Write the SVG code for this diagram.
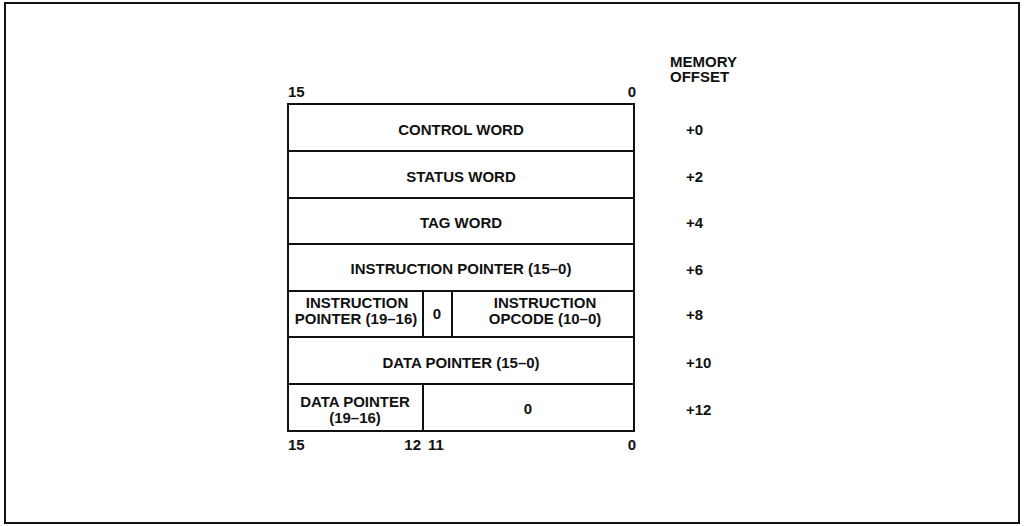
<svg xmlns="http://www.w3.org/2000/svg" width="1024" height="526" viewBox="0 0 1024 526">
<style>
text{font-family:"Liberation Sans",Arial,sans-serif;font-weight:bold;font-size:15px;fill:#111}
.c{text-anchor:middle}
.box{fill:#fff;stroke:#111;stroke-width:2}
.ln{stroke:#111;stroke-width:2}
</style>
<rect x="0" y="0" width="1024" height="526" fill="#fff"/>
<rect x="5" y="3" width="1014" height="520" fill="none" stroke="#111" stroke-width="2"/>
<g id="header">
<text x="670" y="67">MEMORY</text>
<text x="670" y="82">OFFSET</text>
<text x="288" y="97">15</text>
<text x="636" y="97" text-anchor="end">0</text>
</g>
<g id="row0"><rect class="box" x="288" y="104" width="346" height="47"/><text class="c" x="461" y="135">CONTROL WORD</text><text x="686" y="135">+0</text></g>
<g id="row2"><rect class="box" x="288" y="151" width="346" height="47"/><text class="c" x="461" y="182">STATUS WORD</text><text x="686" y="182">+2</text></g>
<g id="row4"><rect class="box" x="288" y="198" width="346" height="46"/><text class="c" x="461" y="228">TAG WORD</text><text x="686" y="228">+4</text></g>
<g id="row6"><rect class="box" x="288" y="244" width="346" height="47"/><text class="c" x="461" y="274">INSTRUCTION POINTER (15–0)</text><text x="686" y="275">+6</text></g>
<g id="row8"><rect class="box" x="288" y="291" width="346" height="46"/>
<line class="ln" x1="423" y1="291" x2="423" y2="337"/><line class="ln" x1="452" y1="291" x2="452" y2="337"/>
<text class="c" x="357" y="308">INSTRUCTION</text><text class="c" x="356" y="324">POINTER (19–16)</text>
<text class="c" x="437" y="319">0</text>
<text class="c" x="545" y="308">INSTRUCTION</text><text class="c" x="545" y="324">OPCODE (10–0)</text>
<text x="686" y="320">+8</text></g>
<g id="row10"><rect class="box" x="288" y="337" width="346" height="47"/><text class="c" x="461" y="368">DATA POINTER (15–0)</text><text x="686" y="368">+10</text></g>
<g id="row12"><rect class="box" x="288" y="384" width="346" height="47"/>
<line class="ln" x1="423" y1="384" x2="423" y2="431"/>
<text class="c" x="355" y="407">DATA POINTER</text><text class="c" x="355" y="423">(19–16)</text>
<text class="c" x="528" y="414">0</text>
<text x="686" y="415">+12</text></g>
<g id="footer">
<text x="288" y="450">15</text>
<text x="421" y="450" text-anchor="end">12</text>
<text x="428" y="450">11</text>
<text x="636" y="450" text-anchor="end">0</text>
</g>
<g id="connectors"></g>
</svg>
